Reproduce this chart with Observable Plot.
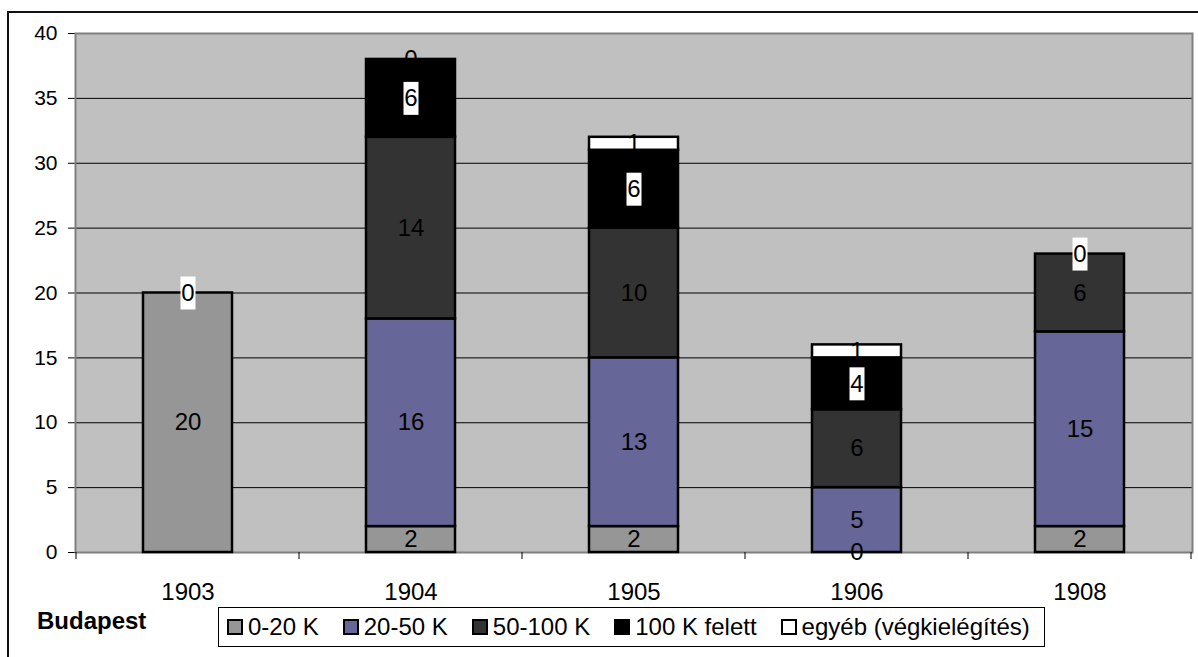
<!DOCTYPE html>
<html>
<head>
<meta charset="utf-8">
<script src="https://cdn.jsdelivr.net/npm/d3@7"></script>
<script src="https://cdn.jsdelivr.net/npm/@observablehq/plot@0.6"></script>
<style>
  html, body { margin: 0; padding: 0; background: #fff; overflow: hidden; width: 1198px; height: 657px; }
  body { position: relative; font-family: "Liberation Sans", Arial, sans-serif; color: #000; }
  #frame { position: absolute; left: 7px; top: 11px; width: 1300px; height: 700px; border: 2px solid #111; box-sizing: border-box; pointer-events: none; }
  #chart svg { display: block; }
  #chart svg g[aria-label^="y-axis"] text { font-size: 21px; }
  #below { position: relative; height: 37px; }
  #city { position: absolute; left: 37px; top: -11px; font-size: 24px; line-height: 24px; font-weight: bold; }
  #legend { position: absolute; left: 218px; top: -13px; height: 40px; box-sizing: border-box; border: 1px solid #000; background: #fff;
            display: flex; align-items: center; padding: 0 14px 0 8px; font-size: 24px; white-space: nowrap; }
  .item { display: flex; align-items: center; margin-right: 24px; }
  .item:last-child { margin-right: 0; }
  .sw { width: 16px; height: 16px; box-sizing: border-box; border: 2px solid #000; margin-right: 5px; }
</style>
</head>
<body>
<div id="chart"></div>
<div id="below">
  <div id="city">Budapest</div>
  <div id="legend"></div>
</div>
<div id="frame"></div>
<script>
// ---- data ----
const years = ["1903", "1904", "1905", "1906", "1908"];
const series = ["0-20 K", "20-50 K", "50-100 K", "100 K felett", "egyéb (végkielégítés)"];
const v0_20   = [20, 2, 2, 0, 2];
const v20_50  = [null, 16, 13, 5, 15];
const v50_100 = [null, 14, 10, 6, 6];
const v100    = [null, 6, 6, 4, null];
const vEgyeb  = [0, 0, 1, 1, 0];
const colors  = ["#969696", "#666699", "#333333", "#000000", "#FFFFFF"];
const yTicks  = [0, 5, 10, 15, 20, 25, 30, 35, 40];

const valuesBySeries = [v0_20, v20_50, v50_100, v100, vEgyeb];
const rows = [];
years.forEach((yr, i) => {
  valuesBySeries.forEach((arr, s) => {
    const v = arr[i];
    if (v == null) return;
    const boxed = s === 3 || (s === 4 && v === 0 && v100[i] == null);
    rows.push({year: yr, series: series[s], value: v, boxed: boxed ? 1 : 0});
  });
});

const boxSymbol = { draw(ctx) { ctx.rect(-7.5, -16.5, 15, 33); } };

const chart = Plot.plot({
  width: 1198,
  height: 620,
  marginLeft: 75,
  marginRight: 6,
  marginTop: 33,
  marginBottom: 68,
  style: { fontFamily: "'Liberation Sans', Arial, sans-serif", fontSize: "24px", background: "transparent", color: "#000" },
  x: { domain: years, paddingInner: 0.6, paddingOuter: 0.3, tickSize: 0, tickPadding: 30, label: null },
  y: { domain: [0, 40], ticks: yTicks, tickSize: 7, tickPadding: 11, label: null },
  color: { domain: series, range: colors },
  opacity: { domain: [0, 1], range: [0, 1] },
  marks: [
    Plot.frame({ fill: "#C0C0C0" }),
    Plot.ruleY(yTicks.filter(t => t > 0 && t < 40), { stroke: "#000", strokeWidth: 1 }),
    Plot.frame({ stroke: "#808080", strokeWidth: 2 }),
    Plot.barY(rows, Plot.stackY({ x: "year", y: "value", fill: "series", z: "series", order: series, stroke: "#000", strokeWidth: 2.5 })),
    Plot.dot(rows, Plot.stackY({ x: "year", y: "value", z: "series", order: series, symbol: boxSymbol, r: 5, fill: "#fff", fillOpacity: "boxed", stroke: "none" })),
    Plot.text(rows, Plot.stackY({ x: "year", y: "value", z: "series", order: series, text: d => String(d.value), fill: "#000", fontSize: 24 }))
  ]
});
document.getElementById("chart").appendChild(chart);

// category boundary ticks on the x axis (Excel style)
const xs = chart.scale("x");
const step = xs.step, bw = xs.bandwidth;
const bounds = years.map(y => xs.apply(y) - (step - bw) / 2);
bounds.push(xs.apply(years[years.length - 1]) + bw + (step - bw) / 2);
const y0 = chart.scale("y").apply(0);
d3.select(chart).append("g")
  .selectAll("line").data(bounds).join("line")
  .attr("x1", d => d).attr("x2", d => d)
  .attr("y1", y0).attr("y2", y0 + 7)
  .attr("stroke", "#000").attr("stroke-width", 1);

// legend
const legend = d3.select("#legend");
series.forEach((s, i) => {
  const it = legend.append("div").attr("class", "item");
  it.append("div").attr("class", "sw").style("background", colors[i]);
  it.append("span").text(s);
});
</script>
</body>
</html>
